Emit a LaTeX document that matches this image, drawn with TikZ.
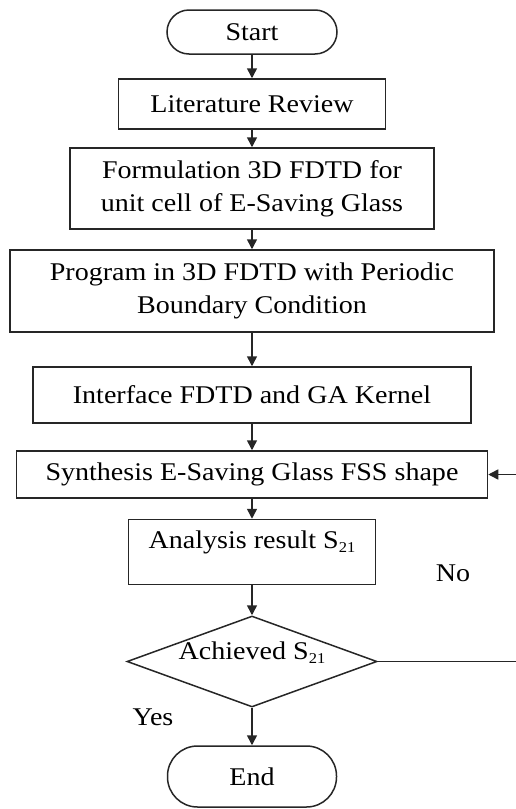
\documentclass[tikz,border=0pt]{standalone}
\usepackage{fontspec}
\setmainfont{Liberation Serif}[FakeStretch=1.1]
\usetikzlibrary{shapes.geometric,arrows.meta}
\begin{document}
\begin{tikzpicture}[x=1pt,y=1pt,
  txt/.style={font=\fontsize{25.5}{33.4}\selectfont, align=center, inner sep=0pt},
  boxnode/.style={draw=black!85, line width=1.5pt, rectangle, inner sep=0pt, txt},
  arr/.style={draw=black!85, line width=1.5pt, -{Triangle[length=10pt,width=10pt]}},
  subs/.style={},
]
\useasboundingbox (0,0) rectangle (516,-809);
\node[boxnode, rounded corners=22pt, minimum width=170pt, minimum height=44pt] (start) at (252,-32) {Start};
\node[boxnode, minimum width=267pt, minimum height=50pt] (lit) at (252,-104) {Literature Review};
\node[boxnode, minimum width=364pt, minimum height=81pt] (form) at (252,-188.5) {Formulation 3D FDTD for\\unit cell of E-Saving Glass};
\node[boxnode, minimum width=484pt, minimum height=82pt] (prog) at (252,-291) {Program in 3D FDTD with Periodic\\Boundary Condition};
\node[boxnode, minimum width=438pt, minimum height=56pt] (intf) at (252,-395) {Interface FDTD and GA Kernel};
\node[boxnode, minimum width=471pt, minimum height=47pt] (syn) at (252,-474.5) {Synthesis E-Saving Glass FSS shape};
\node[boxnode, minimum width=247pt, minimum height=65pt] (ana) at (252,-552) {};
\node[txt, anchor=base] (anatext) at (252,-548) {Analysis result S\raisebox{-4pt}{\fontsize{15}{15}\selectfont 21}};
\node[draw=black!85, line width=1.5pt, diamond, inner sep=0pt, minimum width=250pt, minimum height=91pt] (dia) at (252,-661.5) {};
\node[txt, anchor=base] (diatext) at (252,-659) {Achieved S\raisebox{-4pt}{\fontsize{15}{15}\selectfont 21}};
\node[txt, anchor=base] (no) at (453,-581.5) {No};
\node[txt, anchor=base] (yes) at (153,-725.5) {Yes};
\node[boxnode, rounded corners=30pt, minimum width=169pt, minimum height=61pt] (endn) at (252,-776.5) {End};
\coordinate (c1) at (530,-661.5);
\coordinate (c2) at (530,-474.5);
\draw[arr] (start) -- (lit);
\draw[arr] (lit) -- (form);
\draw[arr] (form) -- (prog);
\draw[arr] (prog) -- (intf);
\draw[arr] (intf) -- (syn);
\draw[arr] (syn) -- (ana);
\draw[arr] (ana) -- (dia);
\draw[arr] (dia) -- (endn);
\draw[arr] (dia.east) -- (c1) -- (c2) -- (syn.east);
\end{tikzpicture}
\end{document}
